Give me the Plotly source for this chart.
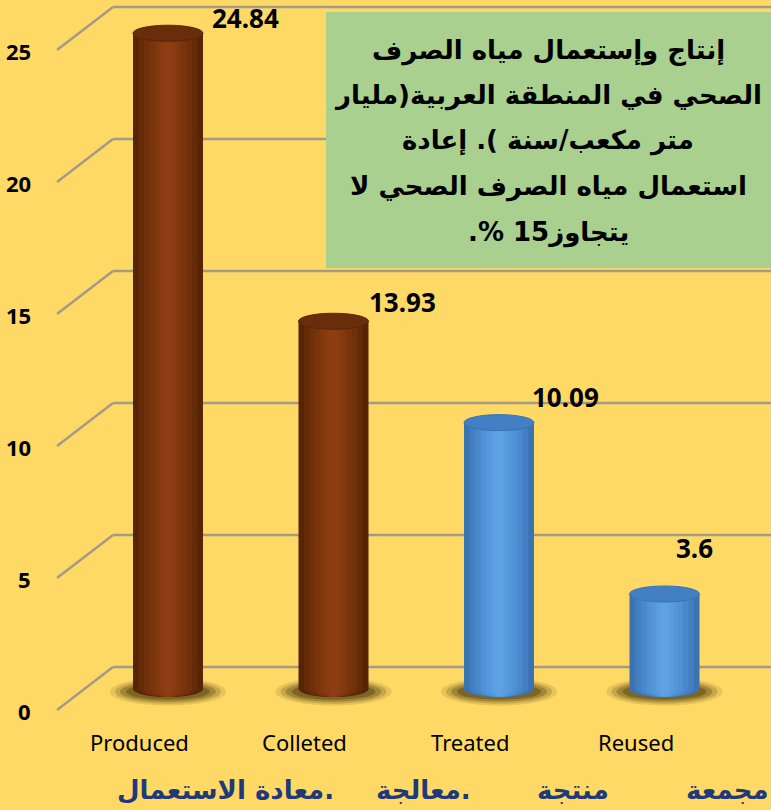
import plotly.graph_objects as go

# ---------------- data ----------------
categories = ["Produced", "Colleted", "Treated", "Reused"]
values = [24.84, 13.93, 10.09, 3.6]
value_text = ["24.84", "13.93", "10.09", "3.6"]
bar_palette = ["brown", "brown", "blue", "blue"]
y_ticks = [0, 5, 10, 15, 20, 25]
title_lines = [
    "إنتاج وإستعمال مياه الصرف",
    "الصحي في المنطقة العربية(مليار",
    "متر مكعب/سنة ). إعادة",
    "استعمال مياه الصرف الصحي لا",
    "يتجاوز15 %.",
]
bottom_words = ["معادة الاستعمال.", "معالجة.", "منتجة", "مجمعة"]

# ---------------- layout constants (pixels) ----------------
W, H = 771, 810
PX_X = 165.5      # pixels per category step
PX_Y = 26.4       # pixels per unit value
X0_PX = 168       # pixel x of first category centre
BACK0_PX = 667    # pixel y of value 0 on the back wall
BAR0_PX = 689     # pixel y of value 0 at bar base
DEPTH_X0, DEPTH_X1 = 57, 113
DEPTH_Y = 43
BAR_W = 70 / PX_X

BG = "#FFD966"
GRID = "#A49A86"
label_dx = [77, 69, 66, 30]
label_dy = [15, 19, 26, 46]
bottom_x = [225, 423, 573, 727]

palettes = {
    "brown": ["#582406", "#652A08", "#70300A", "#7A340C", "#82380E", "#883B10", "#8C3E12"],
    "blue": ["#3A72B2", "#427EC0", "#4988CB", "#4F91D4", "#5497DA", "#599DDF", "#5DA2E3"],
}
cap_colors = {"brown": ("#6A2D0B", "#5A2507"), "blue": ("#4380C3", "#3A72B2")}
fracs = [1.0, 0.84, 0.68, 0.52, 0.38, 0.25, 0.13]

RLE, PDF = "\u202B", "\u202C"


def px(x):
    return x / W


def py(y):
    return (H - y) / H


fig = go.Figure()

shapes_below = []
shapes_above = []

# back-wall gridlines + perspective diagonals
for t in y_ticks:
    shapes_below.append(dict(type="line", xref="paper", yref="y", x0=px(DEPTH_X1), x1=1,
                             y0=t, y1=t, line=dict(color=GRID, width=2.5)))
    shapes_below.append(dict(type="line", xref="paper", yref="y", x0=px(DEPTH_X0), x1=px(DEPTH_X1),
                             ysizemode="pixel", yanchor=t, y0=-DEPTH_Y, y1=0,
                             line=dict(color=GRID, width=2.5)))

ry_top = 8 / PX_Y
ry_bot = 8 / PX_Y

# shadows
for i, v in enumerate(values):
    for rx, ryy, op in [(58, 14, 0.12), (53, 12, 0.18), (48, 10, 0.26), (42, 8, 0.34)]:
        shapes_below.append(dict(type="circle", xref="x", yref="y2",
                                 x0=i - rx / PX_X, x1=i + rx / PX_X,
                                 y0=-0.1 - ryy / PX_Y, y1=-0.1 + ryy / PX_Y,
                                 fillcolor="rgba(55,42,0,%.2f)" % op, line=dict(width=0)))

# rounded bottoms (gradient layers)
for i, v in enumerate(values):
    pal = palettes[bar_palette[i]]
    for f, c in zip(fracs, pal):
        w = BAR_W * f
        shapes_below.append(dict(type="circle", xref="x", yref="y2",
                                 x0=i - w / 2, x1=i + w / 2, y0=-ry_bot, y1=ry_bot,
                                 fillcolor=c, line=dict(width=0)))

# bars: gradient layers drawn as overlaid bars
for k, f in enumerate(fracs):
    fig.add_trace(go.Bar(
        x=list(range(len(categories))), y=values, yaxis="y2",
        width=[BAR_W * f] * len(values),
        marker=dict(color=[palettes[p][k] for p in bar_palette], line=dict(width=0)),
        hoverinfo="skip" if k else "y", showlegend=False,
    ))

# top caps
for i, v in enumerate(values):
    fc, lc = cap_colors[bar_palette[i]]
    shapes_above.append(dict(type="circle", xref="x", yref="y2",
                             x0=i - BAR_W / 2, x1=i + BAR_W / 2, y0=v - ry_top, y1=v + ry_top,
                             fillcolor=fc, line=dict(color=lc, width=1)))

# title box
shapes_above.append(dict(type="rect", xref="paper", yref="paper",
                         x0=px(326), x1=1.01, y0=py(268), y1=py(12),
                         fillcolor="#A9D08E", line=dict(width=0)))

annotations = []
# value labels
for i, v in enumerate(values):
    annotations.append(dict(x=i, y=v, xref="x", yref="y2", text="<b>%s</b>" % value_text[i],
                            showarrow=False, xshift=label_dx[i], yshift=label_dy[i],
                            xanchor="center", yanchor="middle",
                            font=dict(family="Noto Sans", size=26, color="black")))
# y tick labels (front edge)
for t in y_ticks:
    annotations.append(dict(x=px(33), y=t, xref="paper", yref="y", text="<b>%d</b>" % t,
                            xanchor="right", yanchor="middle", showarrow=False, yshift=-44,
                            font=dict(family="Noto Sans", size=22, color="black")))
# category labels
for i, c in enumerate(categories):
    annotations.append(dict(x=i, y=py(742), xref="x", yref="paper", text=c, showarrow=False,
                            xanchor="center", yanchor="middle",
                            xshift=-29, font=dict(family="Noto Sans", size=22, color="black")))
# title text (right-to-left lines)
for k, line in enumerate(title_lines):
    annotations.append(dict(x=px(548), y=py(50 + 45.5 * k), xref="paper", yref="paper",
                            text="<b>%s%s%s</b>" % (RLE, line, PDF), showarrow=False,
                            xanchor="center", yanchor="middle",
                            font=dict(family="DejaVu Sans", size=26, color="black")))
# bottom arabic words
for xb, wd in zip(bottom_x, bottom_words):
    annotations.append(dict(x=px(xb), y=py(790), xref="paper", yref="paper",
                            text="<b>%s</b>" % wd, showarrow=False,
                            xanchor="center", yanchor="middle",
                            font=dict(family="DejaVu Sans", size=26, color="#1F3A7A")))

fig.update_layout(
    width=W, height=H,
    margin=dict(l=0, r=0, t=0, b=0),
    paper_bgcolor=BG, plot_bgcolor=BG,
    barmode="overlay",
    showlegend=False,
    xaxis=dict(range=[-X0_PX / PX_X, (W - X0_PX) / PX_X], visible=False, fixedrange=True),
    yaxis=dict(range=[(BACK0_PX - H) / PX_Y, BACK0_PX / PX_Y], visible=False, fixedrange=True),
    yaxis2=dict(range=[(BAR0_PX - H) / PX_Y, BAR0_PX / PX_Y], visible=False, overlaying="y",
                fixedrange=True),
    shapes=[dict(s, layer="below") for s in shapes_below] + [dict(s, layer="above") for s in shapes_above],
    annotations=annotations,
)

fig.write_html(
    "out.html",
    config={"displayModeBar": False},
    post_script="document.body.style.margin='0';document.body.style.overflow='hidden';",
)
